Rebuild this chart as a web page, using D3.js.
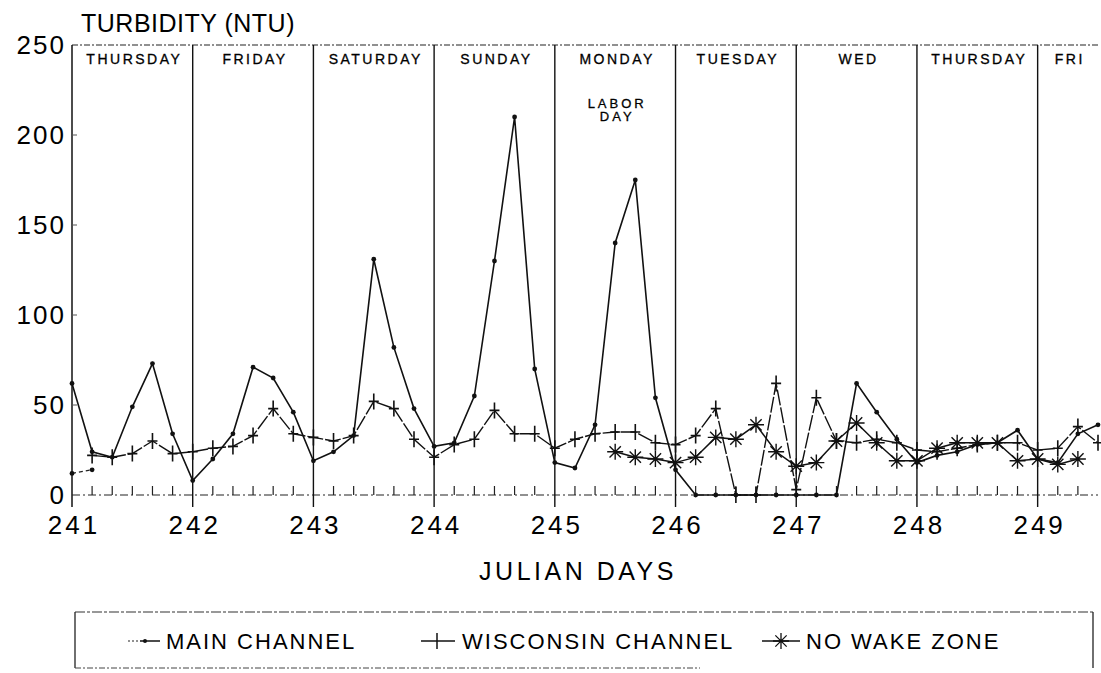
<!DOCTYPE html>
<html>
<head>
<meta charset="utf-8">
<script src="https://cdn.jsdelivr.net/npm/d3@7"></script>
<style>
  body { margin: 0; background: #fff; }
  svg { display: block; font-family: "Liberation Sans", Arial, sans-serif; }
</style>
</head>
<body>
<div id="chart"></div>
<script>
// readings every 4 hours (6 per day), values in NTU
var stepsPerDay = 6;

var dayNames = ['THURSDAY', 'FRIDAY', 'SATURDAY', 'SUNDAY', 'MONDAY', 'TUESDAY', 'WED', 'THURSDAY', 'FRI'];
var dayTicks = [241, 242, 243, 244, 245, 246, 247, 248, 249];
var yTicks = [0, 50, 100, 150, 200, 250];

var mainStart = 241;
var mainChannel = [
  62, 24, 21, 49, 73, 34,
  8, 20, 34, 71, 65, 46,
  19, 24, 33, 131, 82, 48,
  27, 29, 55, 130, 210, 70,
  18, 15, 39, 140, 175, 54,
  14, 0, 0, 0, 0, 0,
  0, 0, 0, 62, 46, 31,
  18, 22, 24, 28, 29, 36,
  20, 18, 34, 39
];
var mainEarly = [12, 14];

var wiscStart = 241 + 1 / 6;
var wisconsin = [
  22, 21, 23, 30, 23,
  24, 26, 27, 33, 48, 34,
  32, 30, 33, 52, 48, 31,
  21, 28, 31, 47, 34, 34,
  26, 31, 34, 35, 35, 29,
  28, 33, 48, 0, 0, 62,
  3, 54, 30, 29, 31, 29,
  25, 24, 26, 28, 29, 29,
  25, 26, 38, 29
];

var nwzStart = 245.5;
var noWakeZone = [
  24, 21, 20,
  18, 21, 32, 31, 39, 24,
  16, 18, 30, 40, 29, 19,
  19, 26, 29, 29, 29, 19,
  20, 17, 20
];

function toPoints(start, values) {
  return values.map(function (v, i) { return { t: start + i / stepsPerDay, v: v }; });
}

var width = 1101, height = 673;
var plotLeft = 72, plotRight = 1098, plotTop = 45, plotBottom = 495;

var x = d3.scaleLinear().domain([241, 249.5]).range([plotLeft, plotRight]);
var y = d3.scaleLinear().domain([0, 250]).range([plotBottom, plotTop]);

var svg = d3.select('#chart').append('svg')
    .attr('width', width)
    .attr('height', height);

svg.append('rect').attr('width', width).attr('height', height).attr('fill', '#fff');

// title
svg.append('text')
    .attr('x', 81)
    .attr('y', 32)
    .style('font-size', '25px')
    .style('letter-spacing', '0.5px')
    .text('TURBIDITY (NTU)');

// frame: dotted top, solid left, dashed base
svg.append('line')
    .attr('x1', plotLeft).attr('x2', plotRight)
    .attr('y1', plotTop).attr('y2', plotTop)
    .style('stroke', '#222').style('stroke-width', 1.2)
    .style('stroke-dasharray', '6,2,2,2');

svg.append('line')
    .attr('x1', plotLeft).attr('x2', plotLeft)
    .attr('y1', plotTop).attr('y2', plotBottom + 12)
    .style('stroke', '#111').style('stroke-width', 1.5);

svg.append('line')
    .attr('x1', plotLeft).attr('x2', plotRight)
    .attr('y1', plotBottom).attr('y2', plotBottom)
    .style('stroke', '#222').style('stroke-width', 1.2)
    .style('stroke-dasharray', '8,3,2,3');

// day separators
svg.append('g').selectAll('line')
    .data(dayTicks.slice(1))
  .enter().append('line')
    .attr('x1', function (d) { return x(d); })
    .attr('x2', function (d) { return x(d); })
    .attr('y1', plotTop)
    .attr('y2', plotBottom + 12)
    .style('stroke', '#111')
    .style('stroke-width', 1.4);

// 4-hour minor ticks on base
var minor = d3.range(241 * stepsPerDay, 249.5 * stepsPerDay)
    .map(function (k) { return k / stepsPerDay; })
    .filter(function (t) { return Math.abs(t - Math.round(t)) > 0.01; });

svg.append('g').selectAll('line')
    .data(minor)
  .enter().append('line')
    .attr('x1', function (d) { return x(d); })
    .attr('x2', function (d) { return x(d); })
    .attr('y1', plotBottom)
    .attr('y2', plotBottom - 9)
    .style('stroke', '#222')
    .style('stroke-width', 1.2);

// y labels
svg.append('g').selectAll('text')
    .data(yTicks)
  .enter().append('text')
    .attr('x', 66)
    .attr('y', function (d) { return y(d); })
    .attr('dy', '0.36em')
    .style('font-size', '26px')
    .style('letter-spacing', '2px')
    .style('text-anchor', 'end')
    .text(function (d) { return d; });

svg.append('g').selectAll('line')
    .data(yTicks.slice(1, 5))
  .enter().append('line')
    .attr('x1', plotLeft).attr('x2', plotLeft + 5)
    .attr('y1', function (d) { return y(d); })
    .attr('y2', function (d) { return y(d); })
    .style('stroke', '#555');

// x labels
svg.append('g').selectAll('text')
    .data(dayTicks)
  .enter().append('text')
    .attr('x', function (d) { return x(d) + 2; })
    .attr('y', 534)
    .style('font-size', '26px')
    .style('letter-spacing', '3px')
    .style('text-anchor', 'middle')
    .text(function (d) { return d; });

svg.append('text')
    .attr('x', 578)
    .attr('y', 580)
    .style('font-size', '25px')
    .style('letter-spacing', '3.5px')
    .style('text-anchor', 'middle')
    .text('JULIAN DAYS');

// day names
svg.append('g').selectAll('text')
    .data(dayNames)
  .enter().append('text')
    .attr('x', function (d, i) {
      var a = dayTicks[i], b = Math.min(a + 1, 249.5);
      return (x(a) + x(b)) / 2 + 2;
    })
    .attr('y', 64)
    .style('font-size', '14px')
    .style('letter-spacing', '2.5px')
    .style('text-anchor', 'middle')
    .style('stroke', '#000').style('stroke-width', 0.3)
    .text(function (d) { return d; });

svg.append('text')
    .attr('x', x(245.5) + 2)
    .attr('y', 108)
    .style('font-size', '13px')
    .style('letter-spacing', '3px')
    .style('text-anchor', 'middle')
    .style('stroke', '#000').style('stroke-width', 0.3)
    .text('LABOR');
svg.append('text')
    .attr('x', x(245.5) + 2)
    .attr('y', 121)
    .style('font-size', '13px')
    .style('letter-spacing', '3px')
    .style('text-anchor', 'middle')
    .style('stroke', '#000').style('stroke-width', 0.3)
    .text('DAY');

// series
var line = d3.line()
    .x(function (d) { return x(d.t); })
    .y(function (d) { return y(d.v); });

var mainPts = toPoints(mainStart, mainChannel);
var wiscPts = toPoints(wiscStart, wisconsin);
var nwzPts = toPoints(nwzStart, noWakeZone);
var earlyPts = toPoints(mainStart, mainEarly);

var plot = svg.append('g');

plot.append('path').datum(earlyPts)
    .attr('d', line)
    .style('fill', 'none').style('stroke', '#222')
    .style('stroke-width', 1.3).style('stroke-dasharray', '4,3');

plot.append('path').datum(wiscPts)
    .attr('d', line)
    .style('fill', 'none').style('stroke', '#111')
    .style('stroke-width', 1.4).style('stroke-dasharray', '16,2');

plot.append('path').datum(nwzPts)
    .attr('d', line)
    .style('fill', 'none').style('stroke', '#111')
    .style('stroke-width', 1.5);

plot.append('path').datum(mainPts)
    .attr('d', line)
    .style('fill', 'none').style('stroke', '#111')
    .style('stroke-width', 1.6);

function drawDots(g, pts) {
  g.selectAll(null).data(pts).enter().append('circle')
      .attr('cx', function (d) { return x(d.t); })
      .attr('cy', function (d) { return y(d.v); })
      .attr('r', 2.4)
      .style('fill', '#111');
}

function plusPath(cx, cy) {
  return 'M' + (cx - 5) + ',' + cy + 'H' + (cx + 5) +
    'M' + cx + ',' + (cy - 8) + 'V' + (cy + 8);
}

function starPath(cx, cy) {
  var r = 8, p = '';
  for (var k = 0; k < 4; k++) {
    var a = k * Math.PI / 4;
    p += 'M' + (cx - r * Math.cos(a)) + ',' + (cy - r * Math.sin(a)) +
      'L' + (cx + r * Math.cos(a)) + ',' + (cy + r * Math.sin(a));
  }
  return p;
}

drawDots(plot.append('g'), mainPts);
drawDots(plot.append('g'), earlyPts);

plot.append('g').selectAll('path')
    .data(wiscPts)
  .enter().append('path')
    .attr('d', function (d) { return plusPath(x(d.t), y(d.v)); })
    .style('stroke', '#111').style('stroke-width', 1.6);

plot.append('g').selectAll('path')
    .data(nwzPts)
  .enter().append('path')
    .attr('d', function (d) { return starPath(x(d.t), y(d.v)); })
    .style('stroke', '#111').style('stroke-width', 1.4);

// legend
var lg = svg.append('g');
lg.append('line').attr('x1', 75).attr('x2', 1093).attr('y1', 612).attr('y2', 612)
    .style('stroke', '#333').style('stroke-width', 1.2).style('stroke-dasharray', '10,2,3,2');
lg.append('line').attr('x1', 75).attr('x2', 75).attr('y1', 612).attr('y2', 668)
    .style('stroke', '#222').style('stroke-width', 1.3);
lg.append('line').attr('x1', 1093).attr('x2', 1093).attr('y1', 612).attr('y2', 668)
    .style('stroke', '#222').style('stroke-width', 1.3);
lg.append('line').attr('x1', 75).attr('x2', 700).attr('y1', 668).attr('y2', 668)
    .style('stroke', '#444').style('stroke-width', 1).style('stroke-dasharray', '6,2,2,2');

var ly = 641;
// main channel sample
lg.append('line').attr('x1', 128).attr('x2', 140).attr('y1', ly).attr('y2', ly)
    .style('stroke', '#222').style('stroke-dasharray', '2,2');
lg.append('line').attr('x1', 140).attr('x2', 160).attr('y1', ly).attr('y2', ly)
    .style('stroke', '#111').style('stroke-width', 1.5);
lg.append('circle').attr('cx', 145).attr('cy', ly).attr('r', 2).style('fill', '#111');
// wisconsin sample
lg.append('line').attr('x1', 421).attr('x2', 455).attr('y1', ly).attr('y2', ly)
    .style('stroke', '#111').style('stroke-width', 1.4);
lg.append('path').attr('d', 'M437,' + (ly - 8) + 'V' + (ly + 8))
    .style('stroke', '#111').style('stroke-width', 1.5);
// no wake sample
lg.append('line').attr('x1', 762).attr('x2', 800).attr('y1', ly).attr('y2', ly)
    .style('stroke', '#111').style('stroke-width', 1.4);
lg.append('path').attr('d', starPath(781, ly))
    .style('stroke', '#111').style('stroke-width', 1.3);

var legendItems = [
  { x: 166, label: 'MAIN CHANNEL' },
  { x: 462, label: 'WISCONSIN CHANNEL' },
  { x: 806, label: 'NO WAKE ZONE' }
];
lg.selectAll('text')
    .data(legendItems)
  .enter().append('text')
    .attr('x', function (d) { return d.x; })
    .attr('y', ly + 8)
    .style('font-size', '22px')
    .style('letter-spacing', '2px')
    .text(function (d) { return d.label; });
</script>
</body>
</html>
